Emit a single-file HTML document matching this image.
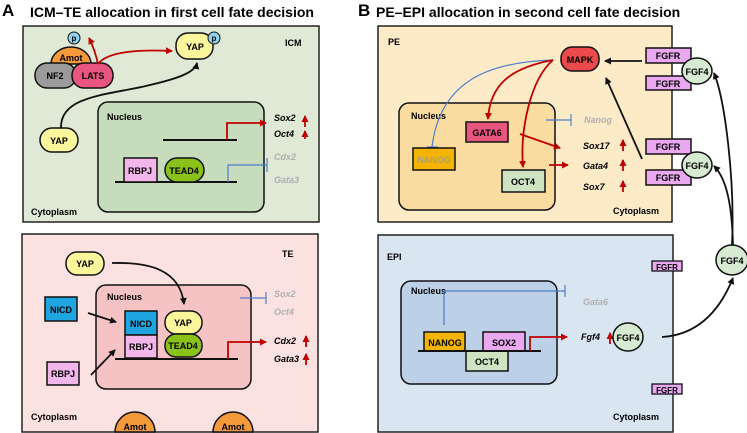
<!DOCTYPE html>
<html><head><meta charset="utf-8"><style>
html,body{margin:0;padding:0;background:#fff}
svg{display:block}
text{font-family:"Liberation Sans",Arial,sans-serif;font-weight:bold}
</style></head><body>
<svg width="747" height="433" viewBox="0 0 747 433" xmlns="http://www.w3.org/2000/svg">
<defs>
<marker id="ab" markerWidth="8" markerHeight="8" refX="6" refY="4" orient="auto" markerUnits="userSpaceOnUse"><path d="M0,0.5 L7,4 L0,7.5 Z" fill="#111"/></marker>
<marker id="ar" markerWidth="8" markerHeight="8" refX="6" refY="4" orient="auto" markerUnits="userSpaceOnUse"><path d="M0,0.5 L7,4 L0,7.5 Z" fill="#c00000"/></marker>
</defs>
<!-- Titles -->
<text x="2" y="16" font-size="17">A</text>
<text x="30" y="17" font-size="14">ICM–TE allocation in first cell fate decision</text>
<text x="358" y="16" font-size="17">B</text>
<text x="376" y="17" font-size="14">PE–EPI allocation in second cell fate decision</text>

<!-- A top ICM -->
<rect x="23" y="26" width="296" height="196" fill="#dfe9d5" stroke="#222" stroke-width="1.5"/>
<rect x="98" y="102" width="166" height="110" rx="10" fill="#c7dbbd" stroke="#111" stroke-width="1.5"/>
<text x="285" y="46" font-size="9">ICM</text>
<text x="107" y="120" font-size="9">Nucleus</text>
<text x="31" y="215" font-size="9">Cytoplasm</text>
<path d="M51,64 A20,17 0 0 1 91,64 Z" fill="#f39a3a" stroke="#111" stroke-width="1.5"/>
<text x="71" y="61" font-size="9" text-anchor="middle">Amot</text>
<circle cx="74" cy="38" r="6" fill="#8fd3ee" stroke="#111" stroke-width="1"/>
<text x="74" y="41" font-size="8" text-anchor="middle">p</text>
<rect x="35" y="63" width="41" height="25" rx="12" fill="#9b9b9b" stroke="#111" stroke-width="1.5"/>
<text x="55" y="79" font-size="9" text-anchor="middle">NF2</text>
<rect x="72" y="63" width="41" height="25" rx="12" fill="#e8557f" stroke="#111" stroke-width="1.5"/>
<text x="93" y="79" font-size="9" text-anchor="middle">LATS</text>
<path d="M98,64 Q95,50 89,38" fill="none" stroke="#c00000" stroke-width="1.8" marker-end="url(#ar)"/>
<path d="M98,64 Q110,48 172,51" fill="none" stroke="#c00000" stroke-width="1.8" marker-end="url(#ar)"/>
<rect x="176" y="33" width="37" height="26" rx="12" fill="#fbf59c" stroke="#111" stroke-width="1.5"/>
<text x="195" y="50" font-size="9" text-anchor="middle">YAP</text>
<circle cx="214" cy="38" r="6" fill="#8fd3ee" stroke="#111" stroke-width="1"/>
<text x="214" y="41" font-size="8" text-anchor="middle">p</text>
<path d="M61,128 C60,95 110,95 150,85 C180,78 195,72 197,63" fill="none" stroke="#111" stroke-width="1.8" marker-end="url(#ab)"/>
<rect x="40" y="128" width="38" height="24" rx="12" fill="#fbf59c" stroke="#111" stroke-width="1.5"/>
<text x="59" y="144" font-size="9" text-anchor="middle">YAP</text>
<line x1="163" y1="140" x2="237" y2="140" stroke="#111" stroke-width="2"/>
<path d="M227,140 V123 H266" fill="none" stroke="#c00000" stroke-width="1.8" marker-end="url(#ar)"/>
<line x1="115" y1="182" x2="237" y2="182" stroke="#111" stroke-width="2"/>
<rect x="124" y="158" width="33" height="24" fill="#f3b6ea" stroke="#111" stroke-width="1.5"/>
<text x="140" y="174" font-size="9" text-anchor="middle">RBPJ</text>
<rect x="165" y="158" width="39" height="24" rx="12" fill="#8bc21a" stroke="#111" stroke-width="1.5"/>
<text x="184" y="174" font-size="9" text-anchor="middle">TEAD4</text>
<path d="M228,182 V165 H267 M267,158 V172" fill="none" stroke="#4f7ec9" stroke-width="1.2"/>
<g font-size="9" font-style="italic">
<text x="274" y="121">Sox2</text><text x="274" y="137">Oct4</text>
<text x="274" y="160" fill="#b0b0b0">Cdx2</text><text x="274" y="183" fill="#b0b0b0">Gata3</text>
</g>
<path d="M305,127 V116" stroke="#c00000" stroke-width="1.8" marker-end="url(#ar)"/>
<path d="M305,139 V131" stroke="#c00000" stroke-width="1.8" marker-end="url(#ar)"/>

<!-- A bottom TE -->
<rect x="22" y="234" width="296" height="198" fill="#fbe2e1" stroke="#222" stroke-width="1.5"/>
<rect x="96" y="285" width="155" height="104" rx="10" fill="#f6c3c4" stroke="#111" stroke-width="1.5"/>
<text x="282" y="257" font-size="9">TE</text>
<text x="107" y="300" font-size="9">Nucleus</text>
<text x="31" y="420" font-size="9">Cytoplasm</text>
<rect x="66" y="252" width="38" height="23" rx="11" fill="#fbf59c" stroke="#111" stroke-width="1.5"/>
<text x="85" y="267" font-size="9" text-anchor="middle">YAP</text>
<path d="M112,263 C150,262 180,270 184,304" fill="none" stroke="#111" stroke-width="1.8" marker-end="url(#ab)"/>
<rect x="45" y="297" width="32" height="24" fill="#1fa5e0" stroke="#111" stroke-width="1.5"/>
<text x="61" y="313" font-size="9" text-anchor="middle">NICD</text>
<rect x="47" y="362" width="32" height="23" fill="#f3b6ea" stroke="#111" stroke-width="1.5"/>
<text x="63" y="377" font-size="9" text-anchor="middle">RBPJ</text>
<path d="M88,313 L116,322" stroke="#111" stroke-width="1.8" marker-end="url(#ab)"/>
<path d="M91,375 L115,350" stroke="#111" stroke-width="1.8" marker-end="url(#ab)"/>
<rect x="125" y="311" width="32" height="24" fill="#1fa5e0" stroke="#111" stroke-width="1.5"/>
<text x="141" y="327" font-size="9" text-anchor="middle">NICD</text>
<rect x="125" y="335" width="32" height="23" fill="#f3b6ea" stroke="#111" stroke-width="1.5"/>
<text x="141" y="350" font-size="9" text-anchor="middle">RBPJ</text>
<rect x="165" y="311" width="37" height="23" rx="11" fill="#fbf59c" stroke="#111" stroke-width="1.5"/>
<text x="183" y="326" font-size="9" text-anchor="middle">YAP</text>
<rect x="165" y="334" width="37" height="23" rx="11" fill="#8bc21a" stroke="#111" stroke-width="1.5"/>
<text x="183" y="349" font-size="9" text-anchor="middle">TEAD4</text>
<line x1="115" y1="359" x2="238" y2="359" stroke="#111" stroke-width="2"/>
<path d="M228,359 V342 H266" fill="none" stroke="#c00000" stroke-width="1.8" marker-end="url(#ar)"/>
<path d="M240,298 H266 M266,292 V304" fill="none" stroke="#4f7ec9" stroke-width="1.2"/>
<g font-size="9" font-style="italic">
<text x="274" y="297" fill="#b0b0b0">Sox2</text><text x="274" y="315" fill="#b0b0b0">Oct4</text>
<text x="274" y="344">Cdx2</text><text x="274" y="362">Gata3</text>
</g>
<path d="M306,347 V336" stroke="#c00000" stroke-width="1.8" marker-end="url(#ar)"/>
<path d="M306,365 V354" stroke="#c00000" stroke-width="1.8" marker-end="url(#ar)"/>
<path d="M115,432 A20,20 0 0 1 155,432 Z" fill="#f39a3a" stroke="#111" stroke-width="1.5"/>
<text x="135" y="430" font-size="9" text-anchor="middle">Amot</text>
<path d="M213,432 A20,20 0 0 1 253,432 Z" fill="#f39a3a" stroke="#111" stroke-width="1.5"/>
<text x="233" y="430" font-size="9" text-anchor="middle">Amot</text>

<!-- B top PE -->
<rect x="378" y="26" width="294" height="196" fill="#fdebc7" stroke="#222" stroke-width="1.5"/>
<rect x="399" y="103" width="156" height="107" rx="10" fill="#fbdca0" stroke="#111" stroke-width="1.5"/>
<text x="388" y="45" font-size="9">PE</text>
<text x="411" y="119" font-size="9">Nucleus</text>
<text x="613" y="214" font-size="9">Cytoplasm</text>
<path d="M553,60 C490,62 440,80 432,147 M427,147 H438" fill="none" stroke="#4f7ec9" stroke-width="1.2"/>
<path d="M553,60 C510,68 490,85 488,119" fill="none" stroke="#c00000" stroke-width="1.8" marker-end="url(#ar)"/>
<path d="M553,60 C530,80 520,130 523,167" fill="none" stroke="#c00000" stroke-width="1.8" marker-end="url(#ar)"/>
<rect x="561" y="47" width="38" height="24" rx="11" fill="#ea4a4a" stroke="#111" stroke-width="1.5"/>
<text x="580" y="63" font-size="9" text-anchor="middle">MAPK</text>
<rect x="466" y="122" width="42" height="20" fill="#e8557f" stroke="#111" stroke-width="1.5"/>
<text x="487" y="136" font-size="9" text-anchor="middle">GATA6</text>
<rect x="413" y="148" width="42" height="22" fill="#f4b400" stroke="#111" stroke-width="1.5"/>
<text x="434" y="163" font-size="9" text-anchor="middle" fill="#b0a070">NANOG</text>
<rect x="502" y="170" width="43" height="22" fill="#cde3c2" stroke="#111" stroke-width="1.5"/>
<text x="523" y="185" font-size="9" text-anchor="middle">OCT4</text>
<path d="M546,120 H571 M571,114 V126" fill="none" stroke="#4f7ec9" stroke-width="1.2"/>
<path d="M520,134 L560,148" stroke="#c00000" stroke-width="1.8" marker-end="url(#ar)"/>
<path d="M549,165 H568" stroke="#c00000" stroke-width="1.8" marker-end="url(#ar)"/>
<g font-size="9" font-style="italic">
<text x="584" y="123" fill="#b0b0b0">Nanog</text>
<text x="583" y="149">Sox17</text><text x="583" y="169">Gata4</text><text x="583" y="190">Sox7</text>
</g>
<path d="M623,151 V140" stroke="#c00000" stroke-width="1.8" marker-end="url(#ar)"/>
<path d="M623,171 V160" stroke="#c00000" stroke-width="1.8" marker-end="url(#ar)"/>
<path d="M623,192 V181" stroke="#c00000" stroke-width="1.8" marker-end="url(#ar)"/>
<path d="M642,61 H605" stroke="#111" stroke-width="1.8" marker-end="url(#ab)"/>
<path d="M642,159 L606,78" stroke="#111" stroke-width="1.8" marker-end="url(#ab)"/>
<g font-size="9">
<rect x="646" y="48" width="45" height="15" fill="#e9a8ef" stroke="#111" stroke-width="1.5"/><text x="668" y="59" text-anchor="middle">FGFR</text>
<rect x="646" y="76" width="45" height="14" fill="#e9a8ef" stroke="#111" stroke-width="1.5"/><text x="668" y="87" text-anchor="middle">FGFR</text>
<rect x="646" y="139" width="45" height="15" fill="#e9a8ef" stroke="#111" stroke-width="1.5"/><text x="668" y="150" text-anchor="middle">FGFR</text>
<rect x="646" y="170" width="45" height="15" fill="#e9a8ef" stroke="#111" stroke-width="1.5"/><text x="668" y="181" text-anchor="middle">FGFR</text>
<ellipse cx="697" cy="71" rx="15" ry="13" fill="#d7ead2" stroke="#111" stroke-width="1.5"/><text x="697" y="75" text-anchor="middle">FGF4</text>
<ellipse cx="697" cy="165" rx="15" ry="13" fill="#d7ead2" stroke="#111" stroke-width="1.5"/><text x="697" y="169" text-anchor="middle">FGF4</text>
</g>
<path d="M732,245 C735,180 725,100 714,73" fill="none" stroke="#111" stroke-width="1.8" marker-end="url(#ab)"/>
<path d="M733,245 C732,210 728,180 714,166" fill="none" stroke="#111" stroke-width="1.8" marker-end="url(#ab)"/>
<ellipse cx="732" cy="260" rx="16" ry="15" fill="#d7ead2" stroke="#111" stroke-width="1.5"/>
<text x="732" y="264" font-size="9" text-anchor="middle">FGF4</text>

<!-- B bottom EPI -->
<rect x="378" y="235" width="295" height="197" fill="#dae5f2" stroke="#222" stroke-width="1.5"/>
<rect x="401" y="281" width="156" height="103" rx="10" fill="#bcd0e7" stroke="#111" stroke-width="1.5"/>
<text x="387" y="260" font-size="9">EPI</text>
<text x="411" y="294" font-size="9">Nucleus</text>
<text x="613" y="420" font-size="9">Cytoplasm</text>
<path d="M444,325 V291 H565 M565,285 V297" fill="none" stroke="#4f7ec9" stroke-width="1.2"/>
<rect x="424" y="332" width="41" height="19" fill="#f4b400" stroke="#111" stroke-width="1.5"/>
<text x="445" y="346" font-size="9" text-anchor="middle">NANOG</text>
<rect x="483" y="332" width="42" height="19" fill="#e9a8ef" stroke="#111" stroke-width="1.5"/>
<text x="504" y="346" font-size="9" text-anchor="middle">SOX2</text>
<rect x="466" y="351" width="42" height="20" fill="#cde3c2" stroke="#111" stroke-width="1.5"/>
<text x="487" y="365" font-size="9" text-anchor="middle">OCT4</text>
<line x1="418" y1="351" x2="541" y2="351" stroke="#111" stroke-width="2"/>
<path d="M530,351 V337 H567" fill="none" stroke="#c00000" stroke-width="1.8" marker-end="url(#ar)"/>
<text x="583" y="305" font-size="9" font-style="italic" fill="#b0b0b0">Gata6</text>
<text x="581" y="340" font-size="9" font-style="italic">Fgf4</text>
<path d="M610,344 V333" stroke="#c00000" stroke-width="1.8" marker-end="url(#ar)"/>
<ellipse cx="628" cy="337" rx="15" ry="14" fill="#d7ead2" stroke="#111" stroke-width="1.5"/>
<text x="628" y="341" font-size="9" text-anchor="middle">FGF4</text>
<path d="M662,337 C695,335 718,315 733,278" fill="none" stroke="#111" stroke-width="1.8" marker-end="url(#ab)"/>
<rect x="652" y="261" width="30" height="10" fill="#e9a8ef" stroke="#111" stroke-width="1.3"/>
<text x="667" y="270" font-size="8" text-anchor="middle">FGFR</text>
<rect x="652" y="384" width="30" height="10" fill="#e9a8ef" stroke="#111" stroke-width="1.3"/>
<text x="667" y="393" font-size="8" text-anchor="middle">FGFR</text>
</svg>
</body></html>
